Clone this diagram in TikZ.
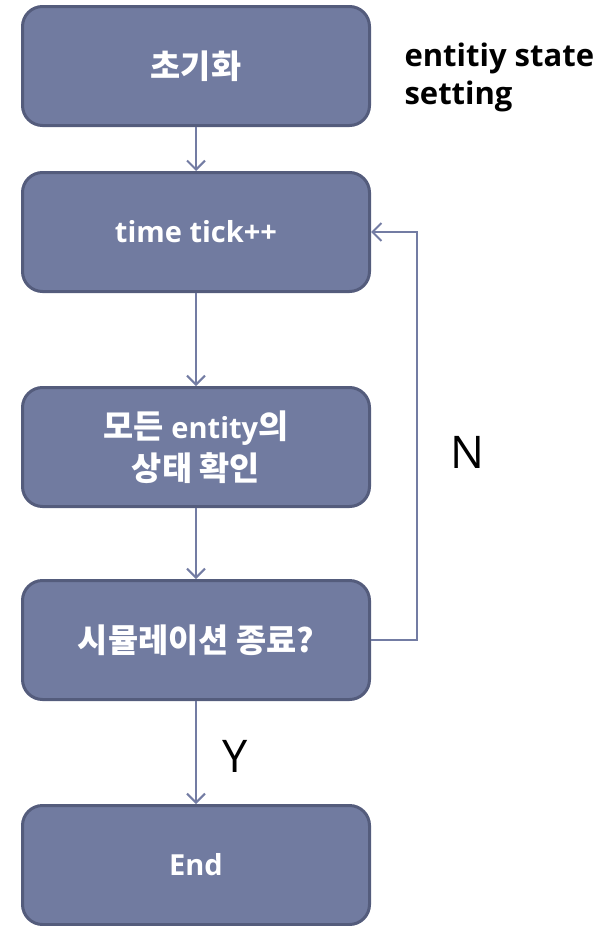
\documentclass[tikz,border=0pt]{standalone}
\usepackage{fontspec}
\setmainfont{Open Sans}[Ligatures=NoCommon]
\newfontfamily\kr{Noto Sans CJK KR}[Scale=1.13]
\usetikzlibrary{arrows.meta}
\definecolor{boxfill}{HTML}{717BA0}
\definecolor{boxline}{HTML}{545C7C}
\definecolor{arr}{HTML}{737CA3}
\tikzset{
  flowbox/.style={draw=boxline, line width=3pt, fill=boxfill, rounded corners=20pt,
    minimum width=347pt, minimum height=119pt, text=white, align=center,
    font=\fontsize{29}{42}\selectfont\bfseries},
  conn/.style={draw=arr, line width=2pt, -{Straight Barb[length=9pt,width=18pt,line width=2pt]}}
}
\begin{document}
\begin{tikzpicture}[x=1pt,y=-1pt]
\useasboundingbox (0,0) rectangle (609,926);
\node[flowbox] (b1) at (196,66) {\kr\bfseries 초기화};
\node[flowbox] (b2) at (196,232) {time tick++};
\node[flowbox] (b3) at (196,447) {{\kr\bfseries 모든} entity{\kr\bfseries 의}\\{\kr\bfseries 상태 확인}};
\node[flowbox] (b4) at (196,640) {\kr\bfseries 시뮬레이션 종료?};
\node[flowbox] (b5) at (196,865) {End};
\draw[conn] (b1.south) -- (b2.north);
\draw[conn] (b2.south) -- (b3.north);
\draw[conn] (b3.south) -- (b4.north);
\draw[conn] (b4.south) -- (b5.north);
\coordinate (c1) at (417,640);
\coordinate (c2) at (417,232);
\draw[conn] (b4.east) -- (c1) -- (c2) -- (b2.east);
\node[anchor=west, align=left, font=\fontsize{31}{38}\selectfont\bfseries] (lbl) at (401,77) {entitiy state\\setting};
\node[font=\fontsize{45}{50}\selectfont] (n) at (467,452) {N};
\node[font=\fontsize{45}{50}\selectfont] (y) at (235,756) {Y};
\end{tikzpicture}
\end{document}
